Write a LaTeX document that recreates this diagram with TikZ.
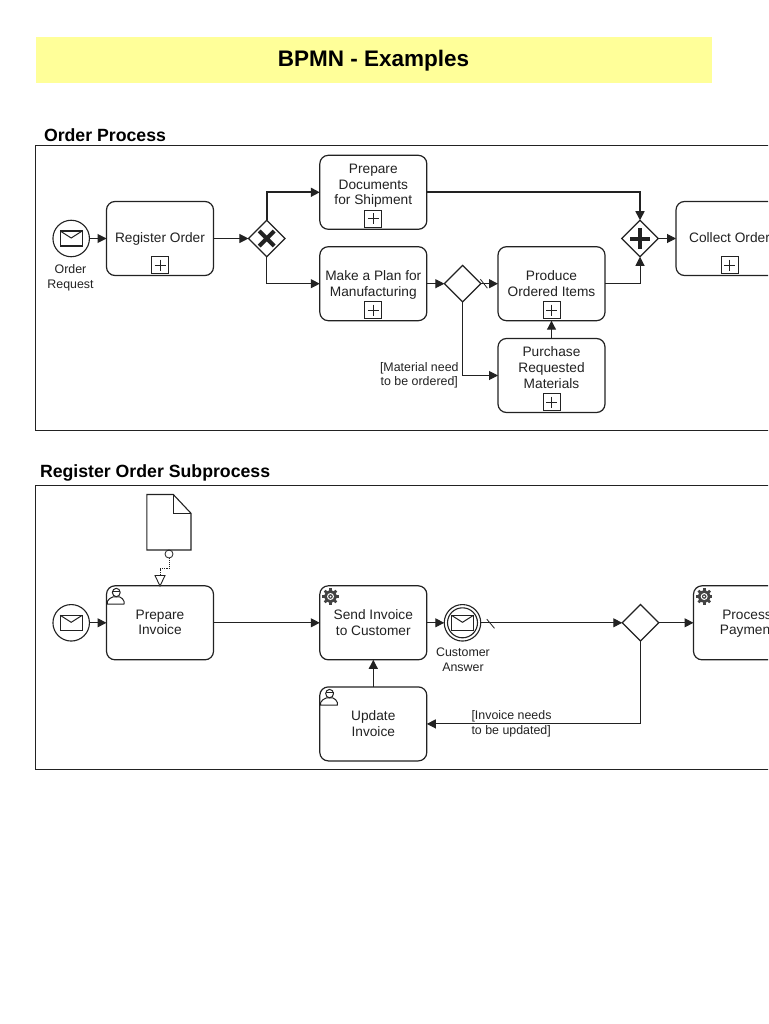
\documentclass[tikz,border=0pt]{standalone}
\usepackage{fontspec}
\setmainfont{Liberation Sans}
\usetikzlibrary{arrows.meta,calc,shapes.geometric}
\definecolor{ink}{HTML}{222222}
\definecolor{titlefill}{HTML}{FFFF99}
\tikzset{
  x=1pt,y=-1pt,
  every node/.style={inner sep=0pt,outer sep=0pt,text=ink},
  tasknode/.style={draw=ink,line width=1.2pt,rounded corners=8.5pt,fill=white,minimum width=107pt,minimum height=74pt,align=center,text depth=1pt,font=\fontsize{13.7}{15.8}\selectfont},
  threeline/.style={text depth=16pt},
  gatenode/.style={draw=ink,line width=1.2pt,diamond,shape aspect=1,fill=white,minimum width=36.5pt,minimum height=36.5pt},
  eventnode/.style={draw=ink,line width=1.1pt,circle,fill=white,minimum size=36.5pt},
  capnode/.style={align=center,font=\fontsize{12.4}{14.9}\selectfont},
  guardnode/.style={font=\fontsize{12.4}{14.8}\selectfont},
  headnode/.style={anchor=base west,font=\bfseries\fontsize{17.7}{20}\selectfont,text=black},
  framenode/.style={draw=ink,line width=.9pt,anchor=north west},
  marknode/.style={draw=ink,line width=.9pt,fill=white,minimum size=17pt},
  flow/.style={draw=ink,line width=1pt,-{Triangle[length=9pt,width=9pt]}},
  boldflow/.style={flow,line width=1.6pt},
  slashline/.style={draw=ink,line width=.8pt},
}
\newcommand{\plusmark}[2]{%
  \node[marknode] (#1) at ($(#2.south)+(0,-10.5)$) {};
  \draw[ink,line width=.9pt] ($(#1)+(-5.5,0)$) -- ($(#1)+(5.5,0)$) ($(#1)+(0,-5.5)$) -- ($(#1)+(0,5.5)$);}
\newcommand{\envelopeat}[1]{%
  \draw[ink,line width=1.1pt] ($(#1)+(-11,-7.5)$) rectangle ($(#1)+(11,7.5)$);
  \draw[ink,line width=1pt] ($(#1)+(-11,-7.5)$) -- ($(#1)+(0,-0.5)$) -- ($(#1)+(11,-7.5)$);}
\newcommand{\personat}[1]{%
  \begin{scope}[shift={(#1)}]
    \draw[ink,line width=1pt,fill=white,line join=round] (0.8,18.3) -- (0.9,15.5) .. controls (1.2,13) and (4.5,12.5) .. (6.5,11) -- (13,11) .. controls (15,12.5) and (17.2,13) .. (17.5,15.5) -- (17.5,18.3) -- cycle;
    \draw[ink,line width=1pt,fill=white] (9.8,6.7) ellipse [x radius=3.9,y radius=4.2];
    \draw[ink,line width=.9pt] (5.9,5.6) -- (13.7,5.6);
  \end{scope}}
\newcommand{\gearat}[1]{%
  \begin{scope}[shift={(#1)}]
    \foreach \a in {0,45,...,315} {\draw[ink!85,line width=2.6pt] (10.7,10.7) -- ++(\a:8.2);}
    \fill[ink!85] (10.7,10.7) circle [radius=6.2];
    \fill[white] (10.7,10.7) circle [radius=3.5];
    \fill[ink!85] (10.7,10.7) circle [radius=2.3];
    \fill[white] (10.7,10.7) circle [radius=1];
  \end{scope}}
\begin{document}
\begin{tikzpicture}
\useasboundingbox (0,0) rectangle (768,1024);
\clip (0,0) rectangle (768,1024);
\fill[white] (0,0) rectangle (768,1024);
% title
\node[fill=titlefill,minimum width=676pt,minimum height=46pt] (band) at (374,60) {};
\node[font=\bfseries\fontsize{22.5}{26}\selectfont,text=black] (title) at (373.5,61) {BPMN - Examples};
% headings and frames
\node[headnode] (headA) at (44,142) {Order Process};
\node[headnode] (headB) at (40,477) {Register Order Subprocess};
\node[framenode,minimum width=744pt,minimum height=285pt] (frameA) at (35.5,145.5) {};
\node[framenode,minimum width=744pt,minimum height=284pt] (frameB) at (35.5,485.5) {};
% ---- Order process
\node[eventnode] (start) at (71.2,238.5) {};
\envelopeat{start}
\node[capnode] (startcap) at (70.5,277.5) {Order\\Request};
\node[tasknode] (register) at (160,238.5) {Register Order};
\node[gatenode] (xor) at (266.7,238.5) {};
\draw[ink,line width=4pt] ($(xor)+(-7.5,-7.5)$) -- ($(xor)+(7.5,7.5)$) ($(xor)+(-7.5,7.5)$) -- ($(xor)+(7.5,-7.5)$);
\node[tasknode,threeline] (prepare) at (373.3,192.3) {Prepare\\Documents\\for Shipment};
\node[tasknode] (plan) at (373.3,283.7) {Make a Plan for\\Manufacturing};
\node[gatenode] (gwa) at (462.6,283.7) {};
\node[tasknode] (produce) at (551.5,283.7) {Produce\\Ordered Items};
\node[tasknode,threeline] (purchase) at (551.5,375.5) {Purchase\\Requested\\Materials};
\node[gatenode] (par) at (640,238.5) {};
\draw[ink,line width=4pt] ($(par)+(-10,0)$) -- ($(par)+(10,0)$) ($(par)+(0,-10)$) -- ($(par)+(0,10)$);
\node[tasknode] (collect) at (729.5,238.5) {Collect Order};
\foreach \t/\m in {register/ma,prepare/mb,plan/mc,produce/md,purchase/me,collect/mf}{\plusmark{\m}{\t}}
\node[guardnode,align=center] (guardA) at (419.3,375.3) {[Material need\\to be ordered]};
\draw[flow] (start) -- (register);
\draw[flow] (register) -- (xor);
\draw[boldflow] (xor.north) |- (prepare.west);
\draw[flow] (xor.south) |- (plan.west);
\draw[boldflow] (prepare.east) -| (par.north);
\draw[flow] (plan) -- (gwa);
\draw[flow] (gwa) -- (produce);
\draw[slashline] ($(gwa.east)+(-0.5,-4.5)$) -- ($(gwa.east)+(6.5,4.5)$);
\draw[flow] (gwa.south) |- (purchase.west);
\draw[flow] (purchase) -- (produce);
\draw[flow] (produce.east) -| (par.south);
\draw[flow] (par) -- (collect);
% ---- Subprocess
\node[eventnode] (startb) at (71.2,622.8) {};
\envelopeat{startb}
\node[tasknode] (invoice) at (160,622.8) {Prepare\\Invoice};
\personat{invoice.north west}
\node[tasknode] (send) at (373.3,622.8) {Send Invoice\\to Customer};
\gearat{send.north west}
\node[tasknode] (update) at (373.3,723.9) {Update\\Invoice};
\personat{update.north west}
\node[eventnode] (catch) at (462.5,622.8) {};
\draw[ink,line width=1.1pt] (catch) circle [radius=15];
\envelopeat{catch}
\node[capnode] (catchcap) at (463,660) {Customer\\Answer};
\node[gatenode] (gwb) at (640.5,622.8) {};
\node[tasknode] (payment) at (747,622.8) {Process\\Payment};
\gearat{payment.north west}
\node[guardnode,align=left] (guardB) at (511.5,724) {[Invoice needs\\to be updated]};
\draw[ink,line width=1.1pt,fill=white,line join=miter] (146.8,494.5) -- (173.3,494.5) -- (191,513.3) -- (191,550) -- (146.8,550) -- cycle;
\draw[ink,line width=1.1pt] (173.3,494.5) -- (173.3,513.3) -- (191,513.3);
\node[draw=ink,line width=.8pt,circle,minimum size=8pt] (assocdot) at (169,554) {};
\coordinate (assoctip) at (160,575.5);
\draw[ink,line width=.9pt,fill=white] ($(assoctip)+(-5,0)$) -- ($(assoctip)+(5,0)$) -- ($(assoctip)+(0,10.5)$) -- cycle;
\draw[ink,line width=.9pt,densely dotted] (assocdot.south) -- (169,568.7) -- (160,568.7) -- (assoctip);
\draw[flow] (startb) -- (invoice);
\draw[flow] (invoice) -- (send);
\draw[flow] (send) -- (catch);
\draw[flow] (catch) -- (gwb);
\draw[slashline] ($(catch.east)+(6,-3.7)$) -- ($(catch.east)+(13.7,5.5)$);
\draw[flow] (gwb) -- (payment);
\draw[flow] (gwb.south) |- (update.east);
\draw[flow] (update) -- (send);
\end{tikzpicture}
\end{document}
